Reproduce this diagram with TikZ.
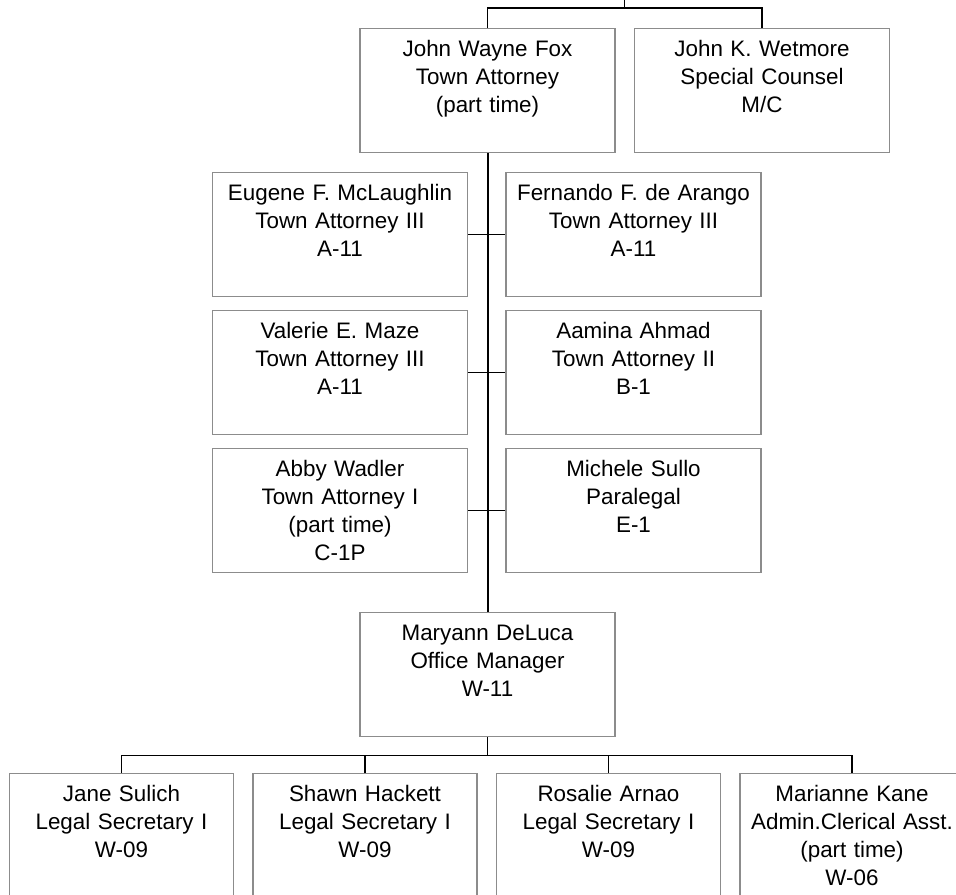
\documentclass[tikz,border=0pt]{standalone}
\usepackage{fontspec}
\setmainfont{Liberation Sans}
\begin{document}
\begin{tikzpicture}[x=0.75pt,y=-0.75pt,
  post/.style={draw=black!45,line width=1.1pt,inner sep=0pt,anchor=north,align=center,
    text width=#1,text height=20.5pt,text depth=72.5pt,font=\fontsize{16.8}{21}\selectfont},
  post/.default=191.25pt,
  link/.style={line width=1pt}]
  \useasboundingbox (0,0) rectangle (956,894);
  \clip (0,0) rectangle (956,894);
  \node[post] (fox) at (487.5,28) {John Wayne Fox\\Town Attorney\\(part time)};
  \node[post] (wetmore) at (762,28) {John K. Wetmore\\Special Counsel\\M/C};
  \node[post] (eugene) at (340,172) {Eugene F. McLaughlin\\Town Attorney III\\A-11};
  \node[post] (fernando) at (633.5,172) {Fernando F. de Arango\\Town Attorney III\\A-11};
  \node[post] (valerie) at (340,310) {Valerie E. Maze\\Town Attorney III\\A-11};
  \node[post] (aamina) at (633.5,310) {Aamina Ahmad\\Town Attorney II\\B-1};
  \node[post] (abby) at (340,448) {Abby Wadler\\Town Attorney I\\(part time)\\C-1P};
  \node[post] (michele) at (633.5,448) {Michele Sullo\\Paralegal\\E-1};
  \node[post] (maryann) at (487.5,612) {Maryann DeLuca\\Office Manager\\W-11};
  \node[post=168pt] (jane) at (121.5,773) {Jane Sulich\\Legal Secretary I\\W-09};
  \node[post=168pt] (shawn) at (365,773) {Shawn Hackett\\Legal Secretary I\\W-09};
  \node[post=168pt] (rosalie) at (608.5,773) {Rosalie Arnao\\Legal Secretary I\\W-09};
  \node[post=168pt] (marianne) at (852,773) {Marianne Kane\\Admin.Clerical Asst.\\(part time)\\W-06};

  \coordinate (head) at (624.5,0);
  \draw[link] (fox.north) -- ++(0,-20) -| (wetmore.north);
  \draw[link] (head) -- ++(0,8);
  \draw[line width=1.5pt] (fox.south) -- (maryann.north);
  \foreach \l/\r in {eugene/fernando,valerie/aamina,abby/michele}
    \draw[link] (\l.east) -- (\r.west);
  \path (maryann.south) ++(0,18) coordinate (bus);
  \draw[link] (maryann.south) -- (bus);
  \draw[link] (jane.north |- bus) -- (marianne.north |- bus);
  \foreach \n in {jane,shawn,rosalie,marianne}
    \draw[link] (\n.north) -- (\n.north |- bus);
\end{tikzpicture}
\end{document}
